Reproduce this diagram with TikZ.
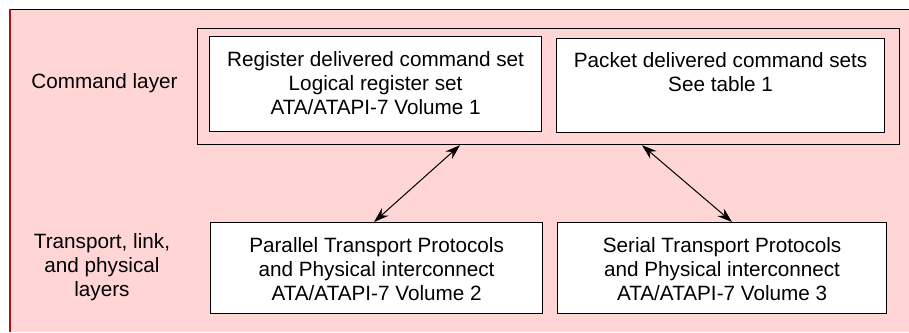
\documentclass[tikz,border=0pt]{standalone}
\usepackage{fontspec}
\setmainfont{Liberation Sans}
\usetikzlibrary{arrows.meta}
\definecolor{bgpink}{HTML}{FFD5D5}
\definecolor{edgered}{HTML}{B01010}
\begin{document}
\begin{tikzpicture}[x=1pt,y=-1pt,
  box/.style={draw=black,fill=white,line width=1.2pt,inner sep=0pt,anchor=north west},
  lbl/.style={align=center,font=\fontsize{20.7}{24}\selectfont},
  link/.style={line width=1pt,{Stealth[length=15pt,width=10pt,inset=5pt]}-{Stealth[length=15pt,width=10pt,inset=5pt]}}]
\useasboundingbox (0,0) rectangle (909,332);
\fill[bgpink] (10,9) rectangle (909,332);
\draw[black,line width=1pt] (10,9.5) -- (909,9.5);
\draw[edgered,line width=2pt] (10,9) -- (10,332);
% outer command layer box
\node[draw=black,line width=1.2pt,minimum width=702pt,minimum height=116pt,inner sep=0pt,anchor=north west] (outer) at (197,28) {};
\node[box,minimum width=332pt,minimum height=95pt] (reg) at (209,36) {};
\node[box,minimum width=328pt,minimum height=94pt] (pkt) at (556,38) {};
\node[lbl,anchor=north] (regt) at ([yshift=-12pt]reg.north) {Register delivered command set\\Logical register set\\ATA/ATAPI-7 Volume 1};
\node[lbl,anchor=north] (pktt) at ([yshift=-11pt]pkt.north) {Packet delivered command sets\\See table 1};
\node[box,minimum width=332pt,minimum height=91pt] (par) at (210,222) {};
\node[box,minimum width=329pt,minimum height=91pt] (ser) at (557,222) {};
\node[lbl] (part) at ([yshift=-0.5pt]par.center) {Parallel Transport Protocols\\and Physical interconnect\\ATA/ATAPI-7 Volume 2};
\node[lbl] (sert) at ([yshift=-0.5pt]ser.center) {Serial Transport Protocols\\and Physical interconnect\\ATA/ATAPI-7 Volume 3};
\node[lbl] (cmdl) at (104.5,83) {Command layer};
\node[lbl] (trl) at (102,267) {Transport, link,\\and physical\\layers};
\coordinate (a1) at (460,145);
\coordinate (a2) at (374,222);
\coordinate (b1) at (642,145);
\coordinate (b2) at (732,222);
\draw[link] (par.north -| a2) -- (outer.south -| a1);
\draw[link] (ser.north -| b2) -- (outer.south -| b1);
\end{tikzpicture}
\end{document}
